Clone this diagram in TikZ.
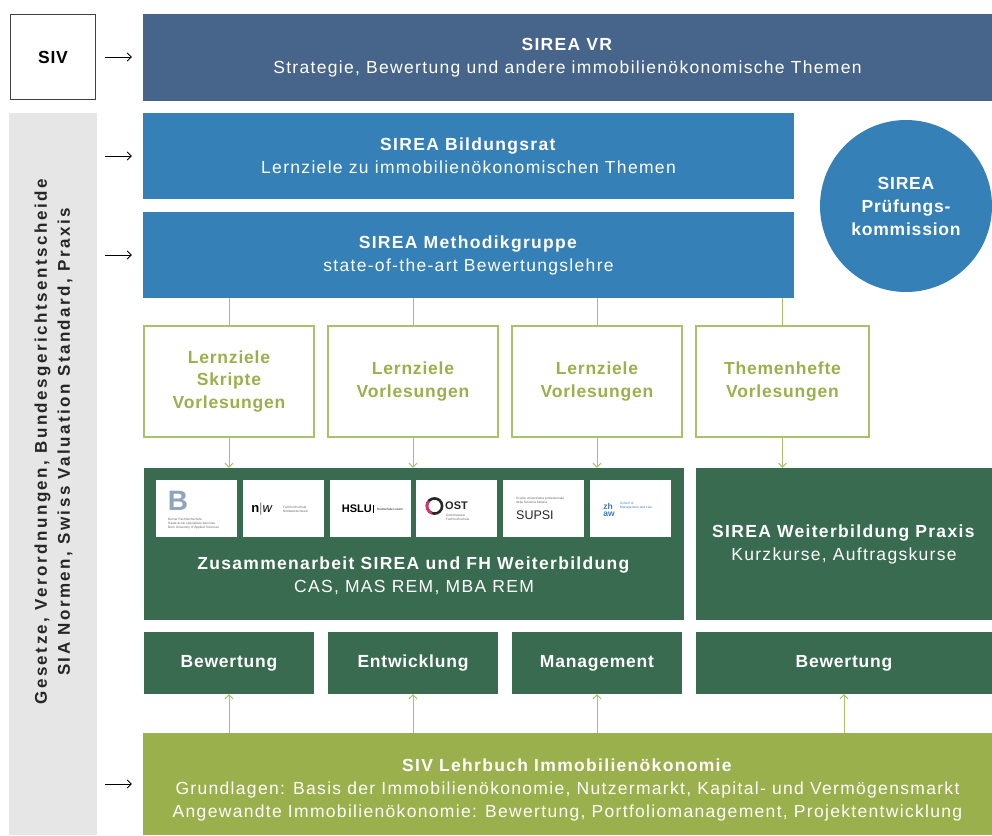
\documentclass[tikz,border=0pt]{standalone}
\usepackage{fontspec}
\setmainfont{Liberation Sans}[LetterSpace=7.5]
\newfontfamily\lsans{Liberation Sans}[LetterSpace=4.5]
\newfontfamily\vsans{Liberation Sans}[LetterSpace=14.5]
\newfontfamily\plainsans{Liberation Sans}
\usetikzlibrary{arrows.meta}
\definecolor{vrblue}{HTML}{47658A}
\definecolor{sblue}{HTML}{3680B8}
\definecolor{dgreen}{HTML}{386B50}
\definecolor{olive}{HTML}{9AB04C}
\definecolor{oline}{HTML}{A8C26A}
\definecolor{graybar}{HTML}{E6E6E6}
\definecolor{bfhblue}{HTML}{8DA4BC}
\definecolor{ostpink}{HTML}{D8336E}
\definecolor{zhblue}{HTML}{3B7BC0}
\begin{document}
\begin{tikzpicture}[x=1pt,y=-1pt,
  fillbox/.style={rectangle, inner sep=0pt, text=white, align=center, font=\fontsize{17.5}{23}\selectfont},
  linebox/.style={rectangle, draw=oline, line width=1.3pt, fill=white, inner sep=0pt, text=olive, align=center, font=\lsans\bfseries\fontsize{17.5}{22.5}\selectfont},
  txt/.style={inner sep=0pt, text=white, align=center, font=\fontsize{17.5}{23}\selectfont},
  lowbox/.style={rectangle, inner sep=0pt, fill=dgreen, text=white, minimum height=62pt, font=\lsans\bfseries\fontsize{17.5}{23}\selectfont},
  gline/.style={draw=oline, line width=1pt},
  garrow/.style={gline, -{Straight Barb[length=4pt,width=8pt]}},
  barrow/.style={draw=black, line width=0.9pt, -{Straight Barb[length=4pt,width=8pt]}},
  logo/.style={rectangle, fill=white, minimum width=81pt, minimum height=57pt, inner sep=0pt},
  tiny/.style={inner sep=0pt, align=left, text=black!60, font=\plainsans\fontsize{3.2}{3.8}\selectfont},
]
\useasboundingbox (0,0) rectangle (992,835);

% left column
\node[rectangle, draw=black!75, line width=1.2pt, minimum size=85pt, font=\lsans\bfseries\fontsize{17.5}{20}\selectfont] (siv) at (53,57) {SIV};
\node[rectangle, fill=graybar, minimum width=88pt, minimum height=722pt, inner sep=0pt] (gbar) at (53,474) {};
\node[rotate=90, align=center, inner sep=0pt, text=black!85, font=\vsans\bfseries\fontsize{17}{23}\selectfont] (law) at (53.5,442) {Gesetze, Verordnungen, Bundesgerichtsentscheide\\SIA Normen, Swiss Valuation Standard, Praxis};

% top blue boxes
\node[fillbox, fill=vrblue, minimum width=849pt, minimum height=87pt] (vr) at (567.5,57.5) {\textbf{SIREA VR}\\Strategie, Bewertung und andere immobilienökonomische Themen};
\node[fillbox, fill=sblue, minimum width=651pt, minimum height=86pt] (bild) at (468.5,156) {\textbf{SIREA Bildungsrat}\\Lernziele zu immobilienökonomischen Themen};
\node[fillbox, fill=sblue, minimum width=651pt, minimum height=86pt] (meth) at (468.5,255) {\textbf{SIREA Methodikgruppe}\\state-of-the-art Bewertungslehre};
\node[circle, fill=sblue, minimum size=172pt, inner sep=0pt, text=white, align=center, font=\lsans\bfseries\fontsize{17.5}{23}\selectfont] (pk) at (906,206) {SIREA\\Prüfungs-\\kommission};

% Lernziele boxes
\node[linebox, minimum width=170pt, minimum height=111pt] (l1) at (229,381.5) {Lernziele\\Skripte\\Vorlesungen};
\node[linebox, minimum width=170pt, minimum height=111pt] (l2) at (413,381.5) {Lernziele\\Vorlesungen};
\node[linebox, minimum width=170pt, minimum height=111pt] (l3) at (597,381.5) {Lernziele\\Vorlesungen};
\node[linebox, minimum width=173pt, minimum height=111pt] (l4) at (782.5,381.5) {Themenhefte\\Vorlesungen};

% green boxes
\node[rectangle, fill=dgreen, minimum width=540pt, minimum height=152pt, inner sep=0pt] (fh) at (414,544) {};
\node[txt] (fhtext) at (414,576) {\textbf{Zusammenarbeit SIREA und FH Weiterbildung}\\CAS, MAS REM, MBA REM};
\node[fillbox, fill=dgreen, minimum width=296pt, minimum height=152pt] (wb) at (844,544) {\textbf{SIREA Weiterbildung Praxis}\\Kurzkurse, Auftragskurse};

% logos
\node[logo] (lg1) at (196.5,508.5) {};
\node[logo] (lg2) at (283.5,508.5) {};
\node[logo] (lg3) at (370.5,508.5) {};
\node[logo] (lg4) at (456.5,508.5) {};
\node[logo] (lg5) at (543.5,508.5) {};
\node[logo] (lg6) at (630.5,508.5) {};
% BFH
\node[inner sep=0pt, text=bfhblue, font=\plainsans\bfseries\fontsize{28}{28}\selectfont] (bfhB) at (178,501) {B};
\node[tiny, anchor=north west] (bfht) at (168,518) {Berner Fachhochschule\\Haute école spécialisée bernoise\\Bern University of Applied Sciences};
% FHNW
\node[inner sep=0pt, font=\plainsans\fontsize{13}{13}\selectfont] (fhnw) at (262,509) {\textbf{n}\textcolor{black!50}{|}\textit{w}};
\node[tiny, anchor=west] (fhnwt) at (283,509) {Fachhochschule\\Nordwestschweiz};
% HSLU
\node[inner sep=0pt, anchor=east, font=\plainsans\bfseries\fontsize{11}{12}\selectfont] (hslu) at (372,509) {HSLU};
\draw[black, line width=0.8pt] ([xshift=1.5pt]hslu.north east) -- ([xshift=1.5pt]hslu.south east);
\node[tiny, anchor=west, text=black, font=\plainsans\fontsize{3}{3.6}\selectfont] (hslut) at (377,509) {Hochschule Luzern};
% OST
\draw[line width=2.6pt, black!85] (434.5,506) circle (7.6pt);
\draw[line width=2.6pt, ostpink] (434.5,506) ++(140:7.6pt) arc (140:250:7.6pt);
\node[inner sep=0pt, anchor=west, font=\plainsans\bfseries\fontsize{11}{12}\selectfont, text=black!85] (ost) at (445,506) {OST};
\node[tiny, anchor=north west] (ostt) at (446,514) {Ostschweizer\\Fachhochschule};
% SUPSI
\node[tiny, anchor=south west] (supsit) at (516,504) {Scuola universitaria professionale\\della Svizzera italiana};
\node[inner sep=0pt, anchor=west, font=\plainsans\fontsize{12.5}{13}\selectfont, text=black!85] (supsi) at (516,515) {SUPSI};
% ZHAW
\node[inner sep=0pt, align=left, text=zhblue, font=\plainsans\bfseries\fontsize{8.5}{7.5}\selectfont] (zhaw) at (609,510) {zh\\aw};
\node[tiny, anchor=west, text=zhblue] (zhawt) at (620,506) {School of\\Management and Law};

% bottom row
\node[lowbox, minimum width=170pt] (b1) at (229,663) {Bewertung};
\node[lowbox, minimum width=170pt] (b2) at (413,663) {Entwicklung};
\node[lowbox, minimum width=170pt] (b3) at (597,663) {Management};
\node[lowbox, minimum width=296pt] (b4) at (844,663) {Bewertung};

% Lehrbuch
\node[rectangle, fill=olive, minimum width=849pt, minimum height=102pt, inner sep=0pt] (lb) at (567.5,784) {};
\node[txt] (lbtext) at (567.5,790) {\textbf{SIV Lehrbuch Immobilienökonomie}\\Grundlagen: Basis der Immobilienökonomie, Nutzermarkt, Kapital- und Vermögensmarkt\\Angewandte Immobilienökonomie: Bewertung, Portfoliomanagement, Projektentwicklung};

% connectors
\foreach \n in {l1,l2,l3,l4} \draw[gline] (\n.north) -- (\n.north |- meth.south);
\foreach \n in {l1,l2,l3} \draw[garrow] (\n.south) -- (\n.south |- fh.north);
\draw[garrow] (l4.south) -- (l4.south |- wb.north);
\foreach \n in {b1,b2,b3,b4} \draw[garrow] (\n.south |- lb.north) -- (\n.south);

\draw[barrow, shorten <=9pt, shorten >=11pt] (siv.east) -- (siv.east -| vr.west);
\draw[barrow, shorten >=11pt] ([xshift=8pt]gbar.east |- bild.west) -- (bild.west);
\draw[barrow, shorten >=11pt] ([xshift=8pt]gbar.east |- meth.west) -- (meth.west);
\draw[barrow, shorten >=11pt] ([xshift=8pt]gbar.east |- lb.west) -- (lb.west);
\end{tikzpicture}
\end{document}
